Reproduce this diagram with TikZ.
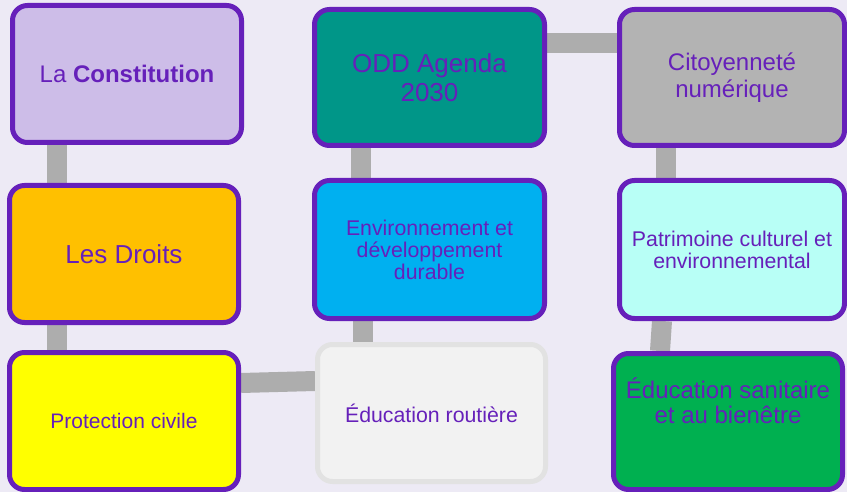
\documentclass[tikz,border=0pt]{standalone}
\usepackage{fontspec}
\setmainfont{Liberation Sans}
\usetikzlibrary{backgrounds}
\definecolor{bgc}{HTML}{EDEAF5}
\definecolor{purp}{RGB}{102,32,186}
\definecolor{conn}{HTML}{ADADAD}
\definecolor{cconst}{HTML}{CDBDE8}
\definecolor{cdroits}{HTML}{FFC000}
\definecolor{cprot}{HTML}{FFFF00}
\definecolor{codd}{HTML}{009688}
\definecolor{cenv}{HTML}{00B0F0}
\definecolor{croute}{HTML}{F2F2F2}
\definecolor{croutebd}{HTML}{E2E2E2}
\definecolor{ccit}{HTML}{B3B3B3}
\definecolor{cpat}{HTML}{B8FFF6}
\definecolor{csan}{HTML}{00B050}
\tikzset{
  box/.style={draw=purp, line width=5pt, rounded corners=15pt, text=purp,
    align=center, inner sep=0pt},
  link/.style={draw=conn, line width=20pt},
}
\begin{document}
\begin{tikzpicture}[x=1pt,y=-1pt]
\useasboundingbox (0,0) rectangle (847,492);
\node[box, fill=cconst, minimum width=229pt, minimum height=137pt,
  font=\fontsize{24}{27}\selectfont] (const) at (127,74) {La \textbf{Constitution}};
\node[box, fill=cdroits, minimum width=229pt, minimum height=137pt,
  font=\fontsize{26}{29}\selectfont] (droits) at (124,254) {Les Droits};
\node[box, fill=cprot, minimum width=229pt, minimum height=137pt,
  font=\fontsize{21}{23}\selectfont] (prot) at (124,421) {Protection civile};
\node[box, fill=codd, minimum width=230pt, minimum height=136pt,
  font=\fontsize{26}{29}\selectfont] (odd) at (429.5,77.5) {ODD Agenda\\2030};
\node[box, fill=cenv, minimum width=230pt, minimum height=138pt,
  font=\fontsize{21.3}{22}\selectfont] (env) at (429.5,249.5) {Environnement et\\développement\\durable};
\node[box, draw=croutebd, fill=croute, minimum width=228pt, minimum height=137pt,
  font=\fontsize{21.3}{23}\selectfont] (route) at (431.5,413) {Éducation routière};
\node[box, fill=ccit, minimum width=225pt, minimum height=136pt,
  font=\fontsize{24}{26.7}\selectfont] (cit) at (732,77.5) {Citoyenneté\\numérique};
\node[box, fill=cpat, minimum width=225pt, minimum height=138pt,
  font=\fontsize{21.3}{22}\selectfont] (pat) at (732,249.5) {Patrimoine culturel et\\environnemental};
\node[box, fill=csan, minimum width=229pt, minimum height=136pt, text depth=42pt,
  font=\fontsize{24}{25}\selectfont] (san) at (728,421.5) {Éducation sanitaire\\et au bienêtre};
\begin{scope}[on background layer]
  \fill[bgc] (0,0) rectangle (847,492);
  \draw[link] ([xshift=-70pt]const.south) -- ([xshift=-67pt]droits.north);
  \draw[link] ([xshift=-67pt]droits.south) -- ([xshift=-67pt]prot.north);
  \draw[link] ([yshift=38pt]prot.east) -- ([yshift=32pt]route.west);
  \draw[link] ([xshift=-68.5pt]route.north) -- ([xshift=-66.5pt]env.south);
  \draw[link] ([xshift=-68.5pt]env.north) -- ([xshift=-68.5pt]odd.south);
  \draw[link] ([yshift=34.5pt]odd.east) -- ([yshift=34.5pt]cit.west);
  \draw[link] ([xshift=-66pt]cit.south) -- ([xshift=-66pt]pat.north);
  \draw[link] ([xshift=-70pt]pat.south) -- ([xshift=-68pt]san.north);
\end{scope}
\end{tikzpicture}
\end{document}
